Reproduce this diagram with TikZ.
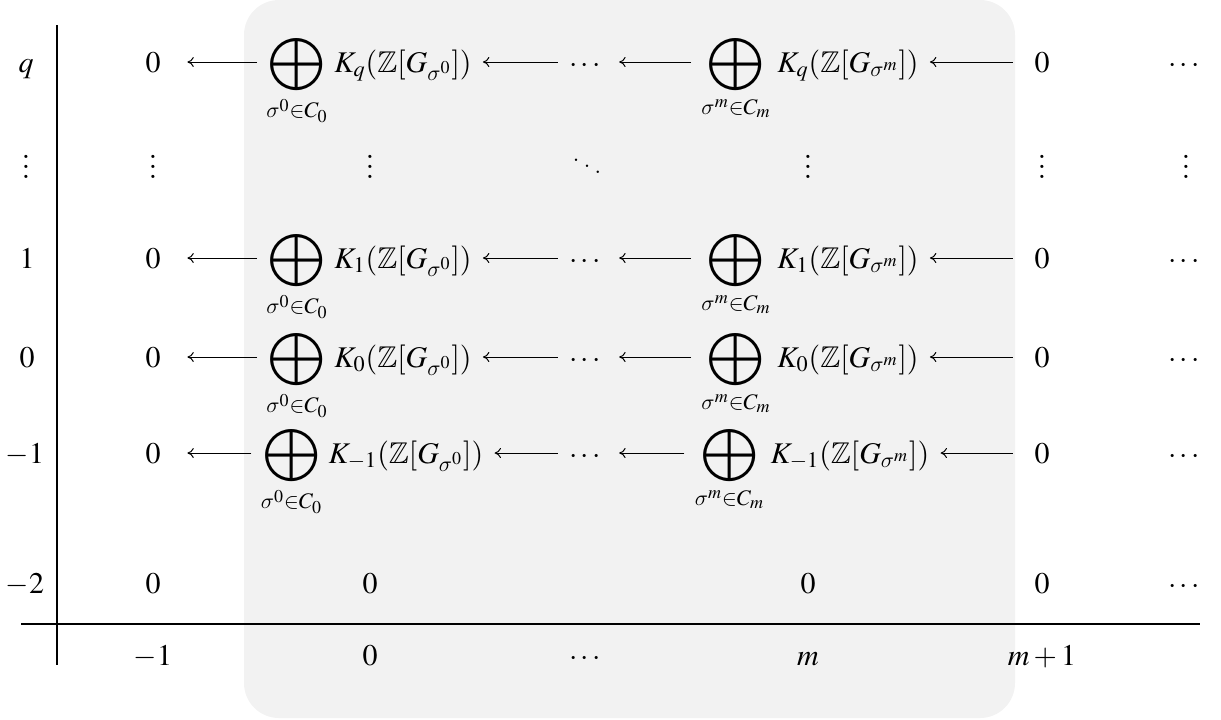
\documentclass[tikz,border=0pt]{standalone}
\usepackage{amssymb}
\usepackage{mathptmx}
\usepackage{graphicx}
\usetikzlibrary{arrows.meta}
\DeclareSymbolFont{cmletters}{OML}{cmm}{m}{it}
\DeclareMathSymbol{\sigma}{\mathord}{cmletters}{"1B}
\definecolor{boxgray}{RGB}{242,242,242}
\tikzset{
  lab/.style={inner sep=0pt, anchor=base, font=\fontsize{15}{18}\selectfont},
  dotlab/.style={inner sep=0pt, anchor=center, font=\fontsize{15}{18}\selectfont},
  cdarrow/.style={line width=0.5pt, -{To[length=3.2pt,width=5pt]}},
  axisline/.style={line width=1pt},
  ar1/.style={cdarrow, shorten <=4.5pt, shorten >=13.25pt},
  ar2/.style={cdarrow, shorten <=5.5pt, shorten >=5.5pt},
  ar3/.style={cdarrow, shorten <=5pt, shorten >=9pt},
  ar4/.style={cdarrow, shorten <=10.75pt, shorten >=5.5pt},
}
\newcommand{\bigop}{\mathop{\vcenter{\hbox{\scalebox{1.38}{$\displaystyle\bigoplus$}}}}\limits}
\newcommand{\vd}{\scalebox{1.3}{$\vdots$}}
\newcommand{\sumA}[1]{$\displaystyle\bigop_{\sigma^0\in C_0}\, K_{#1}(\mathbb{Z}[G_{\sigma^0}])$}
\newcommand{\sumB}[1]{$\displaystyle\bigop_{\sigma^m\in C_m}\, K_{#1}(\mathbb{Z}[G_{\sigma^m}])$}
\begin{document}
\begin{tikzpicture}[x=0.5pt,y=-0.5pt]
\useasboundingbox (0,0) rectangle (1221,719);
\fill[boxgray, rounded corners=17.5pt] (244,0) rectangle (1015,718);
% axes
\coordinate (yt) at (57,25);
\coordinate (yb) at (57,665);
\coordinate (xl) at (21,624);
\coordinate (xr) at (1200,624);
\draw[axisline] (yt) -- (yb);
\draw[axisline] (xl) -- (xr);
% row labels
\node[lab] (rq) at (26,72) {$q$};
\node[dotlab] (rv) at (26,159) {\vd};
\node[lab] (r1) at (27,268) {$1$};
\node[lab] (r0) at (27,367) {$0$};
\node[lab] (rm1) at (25,463) {$-1$};
\node[lab] (rm2) at (25,593) {$-2$};
% column labels
\node[lab] (cm1) at (153,665) {$-1$};
\node[lab] (c0) at (370,665) {$0$};
\node[lab] (cd) at (585,665) {$\cdots$};
\node[lab] (cm) at (808,665) {$m$};
\node[lab] (cm2) at (1042,665) {$m+1$};
% row q
\node[lab] (q0) at (153,72) {$0$};
\node[lab] (qa) at (369,72) {\sumA{q}};
\node[lab] (qd) at (585,72) {$\cdots$};
\node[lab] (qb) at (810,72) {\sumB{q}};
\node[lab] (qz) at (1042,72) {$0$};
\node[lab] (qe) at (1184,72) {$\cdots$};
\draw[ar1] ([yshift=5pt]qa.base west) -- ([yshift=5pt]q0.base east);
\draw[ar2] ([yshift=5pt]qd.base west) -- ([yshift=5pt]qa.base east);
\draw[ar3] ([yshift=5pt]qb.base west) -- ([yshift=5pt]qd.base east);
\draw[ar4] ([yshift=5pt]qz.base west) -- ([yshift=5pt]qb.base east);
% vdots row
\node[dotlab] (v0) at (153,159) {\vd};
\node[dotlab] (va) at (370,159) {\vd};
\node[dotlab] (vd) at (587,160) {$\ddots$};
\node[dotlab] (vb) at (808,159) {\vd};
\node[dotlab] (vz) at (1042,159) {\vd};
\node[dotlab] (ve) at (1186,159) {\vd};
% row 1
\node[lab] (a0) at (153,268) {$0$};
\node[lab] (aa) at (369,268) {\sumA{1}};
\node[lab] (ad) at (585,268) {$\cdots$};
\node[lab] (ab) at (810,268) {\sumB{1}};
\node[lab] (az) at (1042,268) {$0$};
\node[lab] (ae) at (1184,268) {$\cdots$};
\draw[ar1] ([yshift=5pt]aa.base west) -- ([yshift=5pt]a0.base east);
\draw[ar2] ([yshift=5pt]ad.base west) -- ([yshift=5pt]aa.base east);
\draw[ar3] ([yshift=5pt]ab.base west) -- ([yshift=5pt]ad.base east);
\draw[ar4] ([yshift=5pt]az.base west) -- ([yshift=5pt]ab.base east);
% row 0
\node[lab] (b0) at (153,367) {$0$};
\node[lab] (ba) at (369,367) {\sumA{0}};
\node[lab] (bd) at (585,367) {$\cdots$};
\node[lab] (bb) at (810,367) {\sumB{0}};
\node[lab] (bz) at (1042,367) {$0$};
\node[lab] (be) at (1184,367) {$\cdots$};
\draw[ar1] ([yshift=5pt]ba.base west) -- ([yshift=5pt]b0.base east);
\draw[ar2] ([yshift=5pt]bd.base west) -- ([yshift=5pt]ba.base east);
\draw[ar3] ([yshift=5pt]bb.base west) -- ([yshift=5pt]bd.base east);
\draw[ar4] ([yshift=5pt]bz.base west) -- ([yshift=5pt]bb.base east);
% row -1
\node[lab] (c0r) at (153,463) {$0$};
\node[lab] (ca) at (372,463) {\sumA{-1}};
\node[lab] (cdr) at (585,463) {$\cdots$};
\node[lab] (cb) at (812,463) {\sumB{-1}};
\node[lab] (cz) at (1042,463) {$0$};
\node[lab] (ce) at (1184,463) {$\cdots$};
\draw[ar1] ([yshift=5pt]ca.base west) -- ([yshift=5pt]c0r.base east);
\draw[ar2] ([yshift=5pt]cdr.base west) -- ([yshift=5pt]ca.base east);
\draw[ar3] ([yshift=5pt]cb.base west) -- ([yshift=5pt]cdr.base east);
\draw[ar4] ([yshift=5pt]cz.base west) -- ([yshift=5pt]cb.base east);
% row -2
\node[lab] (d0) at (153,593) {$0$};
\node[lab] (da) at (370,593) {$0$};
\node[lab] (db) at (808,593) {$0$};
\node[lab] (dz) at (1042,593) {$0$};
\node[lab] (de) at (1184,593) {$\cdots$};
\end{tikzpicture}
\end{document}
